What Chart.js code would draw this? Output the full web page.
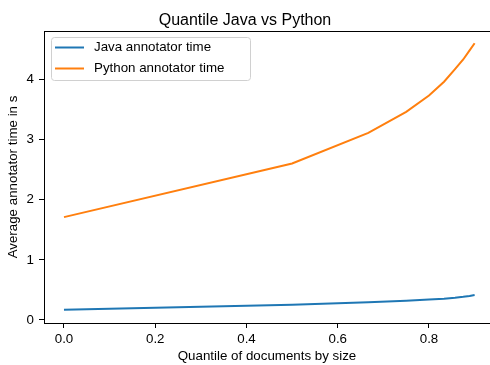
<!DOCTYPE html>
<html>
<head>
<meta charset="utf-8">
<script src="https://cdn.jsdelivr.net/npm/chart.js@4.4.1/dist/chart.umd.min.js"></script>
<style>
  html, body { margin: 0; padding: 0; background: #fff; }
  #wrap { width: 490px; height: 365px; }
</style>
</head>
<body>
<div id="wrap"><canvas id="quantileChart" width="490" height="365"></canvas></div>
<script>
// ================= DATA =================
const quantiles = [0, 0.5, 0.667, 0.75, 0.8, 0.833, 0.857, 0.875, 0.889, 0.9];
const javaTime = [0.17, 0.255, 0.295, 0.32, 0.34, 0.355, 0.37, 0.385, 0.40, 0.415];
const pythonTime = [1.71, 2.6, 3.11, 3.46, 3.73, 3.96, 4.17, 4.33, 4.48, 4.6];
const xTicks = [0, 0.2, 0.4, 0.6, 0.8];
const yTicks = [0, 1, 2, 3, 4];

const FONT = "'Liberation Sans', Arial, sans-serif";

// top spine (matplotlib frame, right side is cropped off)
const topSpine = {
  id: "topSpine",
  afterDraw(chart) {
    const { ctx, chartArea } = chart;
    ctx.save();
    ctx.strokeStyle = "#000";
    ctx.lineWidth = 1;
    ctx.beginPath();
    ctx.moveTo(chartArea.left, chartArea.top + 0.5);
    ctx.lineTo(chart.width, chartArea.top + 0.5);
    ctx.stroke();
    ctx.restore();
  }
};

// legend box in the upper left corner of the plot
const boxLegend = {
  id: "boxLegend",
  afterDatasetsDraw(chart) {
    const ctx = chart.ctx;
    const x = 51.5, y = 37.5, w = 199, h = 43, r = 3;
    ctx.save();
    ctx.fillStyle = "rgba(255,255,255,0.8)";
    ctx.strokeStyle = "#d0d0d0";
    ctx.lineWidth = 1;
    ctx.beginPath();
    ctx.roundRect(x, y, w, h, r);
    ctx.fill();
    ctx.stroke();

    ctx.font = "13.33px " + FONT;
    ctx.textBaseline = "middle";
    ctx.fillStyle = "#000";
    chart.data.datasets.forEach((ds, i) => {
      const ly = 47.5 + i * 21;
      ctx.strokeStyle = ds.borderColor;
      ctx.lineWidth = 2;
      ctx.beginPath();
      ctx.moveTo(55, ly);
      ctx.lineTo(84, ly);
      ctx.stroke();
      ctx.fillText(ds.label, 94, ly);
    });
    ctx.restore();
  }
};

const toPoints = ys => quantiles.map((q, i) => ({ x: q, y: ys[i] }));

new Chart(document.getElementById("quantileChart"), {
  type: "scatter",
  data: {
    datasets: [
      {
        label: "Java annotator time",
        data: toPoints(javaTime),
        showLine: true,
        borderColor: "#1f77b4",
        backgroundColor: "#1f77b4",
        borderWidth: 2,
        pointRadius: 0,
        tension: 0
      },
      {
        label: "Python annotator time",
        data: toPoints(pythonTime),
        showLine: true,
        borderColor: "#ff7f0e",
        backgroundColor: "#ff7f0e",
        borderWidth: 2,
        pointRadius: 0,
        tension: 0
      }
    ]
  },
  options: {
    responsive: false,
    animation: false,
    devicePixelRatio: 1,
    layout: { padding: 0 },
    plugins: {
      legend: { display: false },
      tooltip: { enabled: false },
      title: {
        display: true,
        text: "Quantile Java vs Python",
        color: "#000",
        font: { family: FONT, size: 16, weight: "normal" },
        padding: { top: 10.5, bottom: 1.3 }
      }
    },
    scales: {
      x: {
        type: "linear",
        min: -0.0438,
        max: 0.9337,
        afterFit: s => { s.height = 42; },
        afterBuildTicks: axis => { axis.ticks = xTicks.map(v => ({ value: v })); },
        grid: { display: true, drawOnChartArea: false, drawTicks: true, tickLength: 5, color: "#000" },
        border: { display: true, color: "#000", width: 1 },
        ticks: {
          color: "#000",
          padding: 3,
          font: { family: FONT, size: 13.33 },
          callback: v => v.toFixed(1)
        },
        title: {
          display: true,
          text: "Quantile of documents by size",
          color: "#000",
          font: { family: FONT, size: 13.33 },
          padding: { top: 0, bottom: 1 }
        }
      },
      y: {
        type: "linear",
        min: -0.05,
        max: 4.803,
        afterFit: s => { s.width = 44; },
        afterBuildTicks: axis => { axis.ticks = yTicks.map(v => ({ value: v })); },
        grid: { display: true, drawOnChartArea: false, drawTicks: true, tickLength: 5, color: "#000" },
        border: { display: true, color: "#000", width: 1 },
        ticks: {
          color: "#000",
          padding: 5,
          font: { family: FONT, size: 13.33 },
          callback: v => String(v)
        },
        title: {
          display: true,
          text: "Average annotator time in s",
          color: "#000",
          font: { family: FONT, size: 13.33 },
          padding: { top: 5, bottom: 0 }
        }
      }
    }
  },
  plugins: [topSpine, boxLegend]
});
</script>
</body>
</html>
